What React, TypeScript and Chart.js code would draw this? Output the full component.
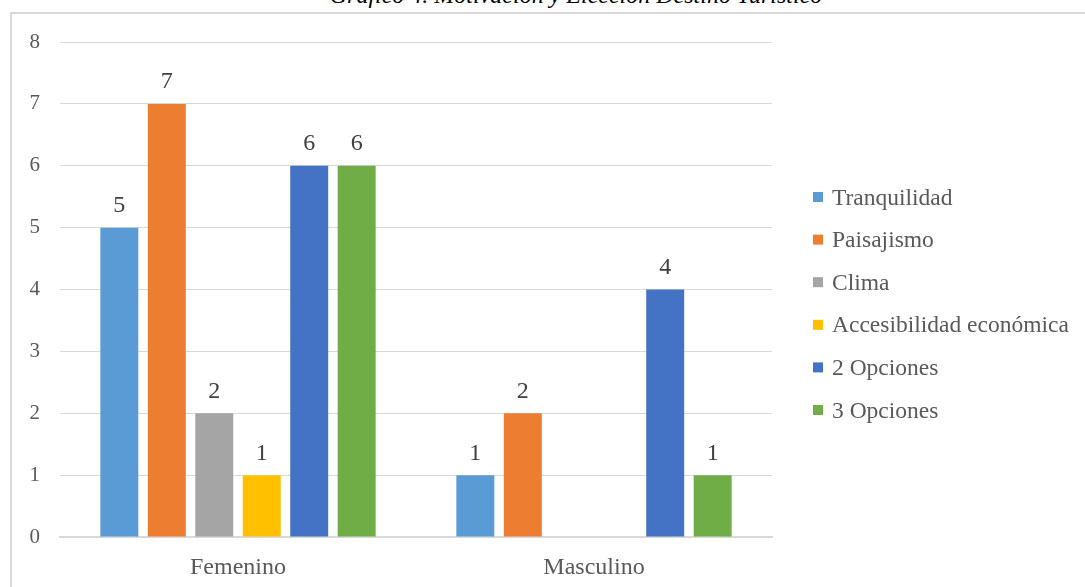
import React, { useEffect, useRef } from "react";
import { Chart, registerables } from "chart.js";

Chart.register(...registerables);

const TITLE = "Gráfico 4. Motivación y Elección Destino Turístico";
const categories = ["Femenino", "Masculino"];
const seriesNames = [
  "Tranquilidad",
  "Paisajismo",
  "Clima",
  "Accesibilidad económica",
  "2 Opciones",
  "3 Opciones",
];
const seriesColors = ["#5B9BD5", "#ED7D31", "#A5A5A5", "#FFC000", "#4472C4", "#70AD47"];
const tranquilidad = [5, 1];
const paisajismo = [7, 2];
const clima = [2, null];
const accesibilidad = [1, null];
const dosOpciones = [6, 4];
const tresOpciones = [6, 1];
const seriesValues = [tranquilidad, paisajismo, clima, accesibilidad, dosOpciones, tresOpciones];
const yTicks = [0, 1, 2, 3, 4, 5, 6, 7, 8];

const FONT = '"Liberation Serif"';

const labelsPlugin = {
  id: "valueLabels",
  afterDatasetsDraw(chart: any) {
    const ctx = chart.ctx;
    ctx.save();
    ctx.font = `24px ${FONT}`;
    ctx.fillStyle = "#404040";
    ctx.textAlign = "center";
    ctx.textBaseline = "alphabetic";
    chart.data.datasets.forEach((ds: any, i: number) => {
      const meta = chart.getDatasetMeta(i);
      meta.data.forEach((bar: any, j: number) => {
        const v = ds.data[j];
        if (v === null || v === undefined) return;
        ctx.fillText(String(v), bar.x, bar.y - 15.5);
      });
    });
    ctx.restore();
  },
};

const legendPlugin = {
  id: "sideLegend",
  afterDraw(chart: any) {
    const ctx = chart.ctx;
    const area = chart.chartArea;
    const x0 = area.right + 41;
    const y0 = area.top + 155;
    const step = 42.6;
    ctx.save();
    ctx.font = `23.5px ${FONT}`;
    ctx.textAlign = "left";
    ctx.textBaseline = "alphabetic";
    chart.data.datasets.forEach((ds: any, i: number) => {
      const cy = y0 + i * step;
      ctx.fillStyle = ds.backgroundColor;
      ctx.fillRect(x0, cy - 5, 10, 10);
      ctx.fillStyle = "#595959";
      ctx.fillText(ds.label, x0 + 19, cy + 7.6);
    });
    ctx.restore();
  },
};

export default function App() {
  const canvasRef = useRef<HTMLCanvasElement | null>(null);

  useEffect(() => {
    if (!canvasRef.current) return;
    const chart = new Chart(canvasRef.current, {
      type: "bar",
      data: {
        labels: categories,
        datasets: seriesNames.map((name, i) => ({
          label: name,
          data: seriesValues[i],
          backgroundColor: seriesColors[i],
          borderWidth: 0,
          categoryPercentage: 0.8,
          barPercentage: 0.8,
        })),
      },
      options: {
        animation: false,
        responsive: false,
        maintainAspectRatio: false,
        layout: { padding: { top: 28, right: 313, bottom: 0, left: 0 } },
        plugins: {
          legend: { display: false },
          tooltip: { enabled: false },
          title: { display: false },
        },
        scales: {
          x: {
            grid: { display: false },
            border: { display: true, color: "#d9d9d9", width: 2 },
            ticks: {
              font: { family: FONT, size: 24 },
              color: "#595959",
              padding: 8,
            },
            afterFit: (s: any) => {
              s.height = 50;
            },
          },
          y: {
            min: 0,
            max: 8,
            afterBuildTicks: (s: any) => {
              s.ticks = yTicks.map((v) => ({ value: v }));
            },
            grid: {
              color: "#d9d9d9",
              lineWidth: 1,
              drawTicks: true,
              tickLength: 14,
              tickColor: "rgba(0,0,0,0)",
            },
            border: { display: false },
            ticks: {
              font: { family: FONT, size: 21 },
              color: "#595959",
              padding: 6,
            },
            afterFit: (s: any) => {
              s.width = 48;
            },
          },
        },
      },
      plugins: [labelsPlugin, legendPlugin],
    });
    return () => chart.destroy();
  }, []);

  return (
    <div
      style={{
        position: "absolute",
        left: 0,
        top: 0,
        width: 1085,
        height: 587,
        overflow: "hidden",
        background: "#ffffff",
      }}
    >
      <div
        style={{
          position: "absolute",
          left: 0,
          width: 1152,
          top: -17,
          textAlign: "center",
          fontFamily: FONT,
          fontStyle: "italic",
          fontSize: 24,
          lineHeight: "24px",
          color: "#000000",
          whiteSpace: "nowrap",
        }}
      >
        {TITLE}
      </div>
      <div
        style={{
          position: "absolute",
          left: 10,
          top: 12,
          width: 1120,
          height: 620,
          border: "2px solid #d9d9d9",
          boxSizing: "border-box",
        }}
      />
      <canvas
        ref={canvasRef}
        width={1073}
        height={573}
        style={{ position: "absolute", left: 12, top: 14, width: 1073, height: 573 }}
      />
    </div>
  );
}
